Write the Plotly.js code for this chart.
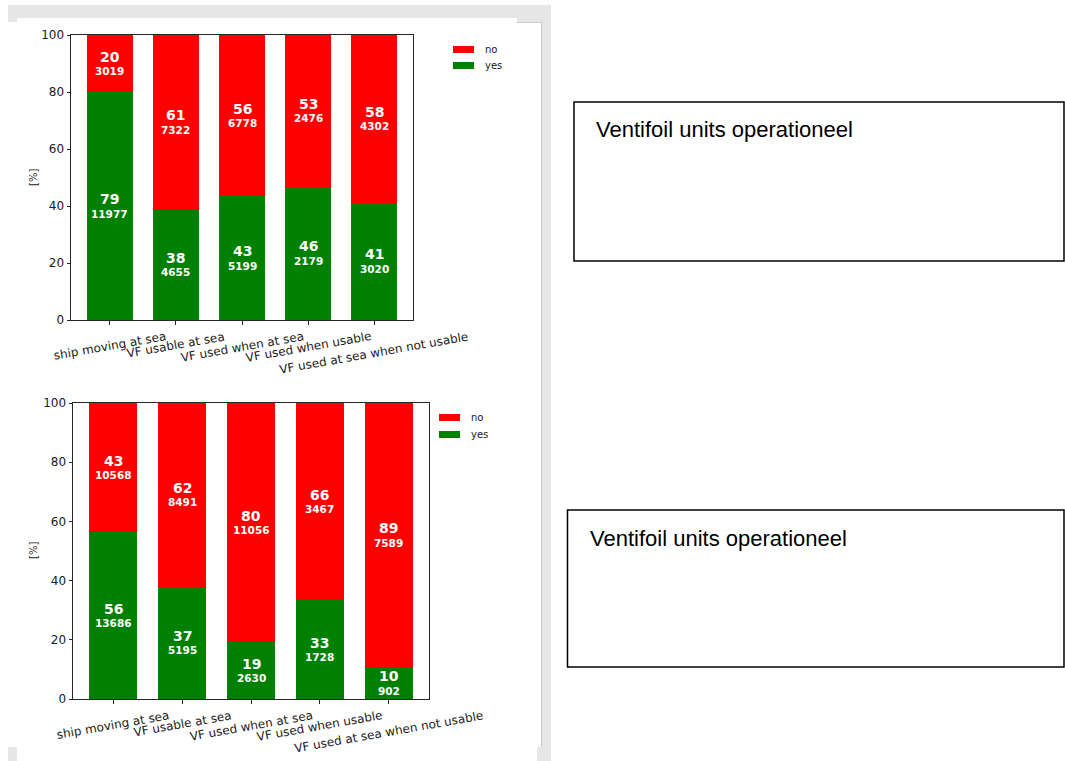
<!DOCTYPE html>
<html><head><meta charset="utf-8">
<script src="https://cdn.plot.ly/plotly-3.0.1.min.js"></script>
<style>html,body{margin:0;padding:0;background:#fff;overflow:hidden;} #chart{width:1065px;height:761px;}</style>
</head><body><div id="chart"></div>
<script>
// ---------- data ----------
const categories = ["ship moving at sea", "VF usable at sea", "VF used when at sea", "VF used when usable", "VF used at sea when not usable"];
const yTickVals = [0, 20, 40, 60, 80, 100];
const seriesNames = ["no", "yes"];

const topYesPct = [79.9, 38.9, 43.4, 46.8, 41.2];
const topNoPct = [20.1, 61.1, 56.6, 53.2, 58.8];
const topYesCount = [11977, 4655, 5199, 2179, 3020];
const topNoCount = [3019, 7322, 6778, 2476, 4302];

const bottomYesPct = [56.4, 37.96, 19.2, 33.3, 10.6];
const bottomNoPct = [43.6, 62.04, 80.8, 66.7, 89.4];
const bottomYesCount = [13686, 5195, 2630, 1728, 902];
const bottomNoCount = [10568, 8491, 11056, 3467, 7589];

const boxText = "Ventifoil units operationeel";
const yLabel = "[%]";

// ---------- helpers (page pixel -> paper) ----------
const W = 1065, H = 761;
const px = x => x / W;
const py = y => 1 - y / H;

const RED = "#ff0000", GREEN = "#008000";
const FONT = "DejaVu Sans";
const TXT = "#1a1a1a";

const traces = [];
function addBars(yes, no, xa, ya) {
  traces.push({type: "bar", name: seriesNames[1], x: categories, y: yes, marker: {color: GREEN, line: {width: 0}}, width: 0.7, xaxis: xa, yaxis: ya, showlegend: false, hoverinfo: "skip"});
  traces.push({type: "bar", name: seriesNames[0], x: categories, y: no, marker: {color: RED, line: {width: 0}}, width: 0.7, xaxis: xa, yaxis: ya, showlegend: false, hoverinfo: "skip"});
}
addBars(topYesPct, topNoPct, "x", "y");
addBars(bottomYesPct, bottomNoPct, "x2", "y2");

const annotations = [];
function barLabels(yes, no, yesC, noC, xr, yr) {
  categories.forEach((c, i) => {
    const segs = [[yes[i] / 2, yes[i], yesC[i]], [yes[i] + no[i] / 2, no[i], noC[i]]];
    segs.forEach(([mid, pct, cnt]) => {
      annotations.push({xref: xr, yref: yr, x: c, y: mid, text: "<b>" + Math.floor(pct) + "</b>", showarrow: false, yshift: 7, xanchor: "center", yanchor: "middle", font: {family: FONT, size: 14, color: "#ffffff"}});
      annotations.push({xref: xr, yref: yr, x: c, y: mid, text: "<b>" + cnt + "</b>", showarrow: false, yshift: -7.5, xanchor: "center", yanchor: "middle", font: {family: FONT, size: 10.5, color: "#ffffff"}});
    });
  });
}
barLabels(topYesPct, topNoPct, topYesCount, topNoCount, "x", "y");
barLabels(bottomYesPct, bottomNoPct, bottomYesCount, bottomNoCount, "x2", "y2");

function tickLabels(xr, axisBottomPx) {
  categories.forEach(c => {
    annotations.push({xref: xr, yref: "paper", x: c, y: py(axisBottomPx), yshift: -7, text: c, textangle: -10, showarrow: false, xanchor: "center", yanchor: "top", font: {family: FONT, size: 12, color: TXT}});
  });
}
tickLabels("x", 320);
tickLabels("x2", 699);

// y labels
annotations.push({xref: "paper", yref: "paper", x: px(33), y: py(178), text: yLabel, textangle: -90, showarrow: false, xanchor: "center", yanchor: "middle", font: {family: FONT, size: 10, color: TXT}});
annotations.push({xref: "paper", yref: "paper", x: px(33), y: py(551), text: yLabel, textangle: -90, showarrow: false, xanchor: "center", yanchor: "middle", font: {family: FONT, size: 10, color: TXT}});

// legends (manual, matplotlib style)
const shapes = [];
function legend(x0, yNo, yYes) {
  shapes.push({type: "rect", xref: "paper", yref: "paper", x0: px(x0), x1: px(x0 + 21), y0: py(yNo - 3.5), y1: py(yNo + 3.5), fillcolor: RED, line: {width: 0}});
  shapes.push({type: "rect", xref: "paper", yref: "paper", x0: px(x0), x1: px(x0 + 21), y0: py(yYes - 3.5), y1: py(yYes + 3.5), fillcolor: GREEN, line: {width: 0}});
  annotations.push({xref: "paper", yref: "paper", x: px(x0 + 30), y: py(yNo), text: seriesNames[0], showarrow: false, xanchor: "left", yanchor: "middle", font: {family: FONT, size: 10, color: TXT}});
  annotations.push({xref: "paper", yref: "paper", x: px(x0 + 30), y: py(yYes), text: seriesNames[1], showarrow: false, xanchor: "left", yanchor: "middle", font: {family: FONT, size: 10, color: TXT}});
}
legend(453, 49.5, 65.5);
legend(439, 417.5, 434.5);

// notebook frame
const FR = "#e6e6e6";
shapes.push({type: "rect", xref: "paper", yref: "paper", layer: "below", x0: px(8), x1: px(551), y0: py(5), y1: py(22), fillcolor: FR, line: {width: 0}});
shapes.push({type: "rect", xref: "paper", yref: "paper", layer: "below", x0: px(17), x1: px(517), y0: py(18), y1: py(23), fillcolor: "#ffffff", line: {width: 0}});
shapes.push({type: "rect", xref: "paper", yref: "paper", layer: "below", x0: px(541), x1: px(551), y0: py(5), y1: py(761), fillcolor: FR, line: {width: 0}});
shapes.push({type: "rect", xref: "paper", yref: "paper", layer: "below", x0: px(537), x1: px(551), y0: py(747), y1: py(761), fillcolor: FR, line: {width: 0}});
shapes.push({type: "rect", xref: "paper", yref: "paper", layer: "below", x0: px(8), x1: px(17), y0: py(747), y1: py(761), fillcolor: FR, line: {width: 0}});
shapes.push({type: "line", xref: "paper", yref: "paper", layer: "below", x0: px(541.5), x1: px(541.5), y0: py(22), y1: py(747), line: {color: "#cccccc", width: 1}});
shapes.push({type: "line", xref: "paper", yref: "paper", layer: "below", x0: px(517), x1: px(541.5), y0: py(22.5), y1: py(22.5), line: {color: "#cccccc", width: 1}});

// text boxes
function textBox(x0, y0, y1) {
  shapes.push({type: "rect", xref: "paper", yref: "paper", x0: px(x0), x1: px(1064), y0: py(y0), y1: py(y1), fillcolor: "rgba(0,0,0,0)", line: {color: "#000000", width: 1.5}});
  annotations.push({xref: "paper", yref: "paper", x: px(x0 + 20), y: py(y0 + 28), text: boxText, showarrow: false, xanchor: "left", yanchor: "middle", font: {family: "Liberation Sans", size: 22, color: "#000000"}});
}
textBox(574, 102, 261);
textBox(567.5, 510, 667);

const axisCommon = {showline: true, mirror: true, linecolor: "#262626", linewidth: 1, ticks: "outside", ticklen: 3.5, tickcolor: "#262626", showgrid: false, zeroline: false, fixedrange: true};
const xCommon = Object.assign({}, axisCommon, {type: "category", range: [-0.585, 4.585], showticklabels: false, categoryorder: "array", categoryarray: categories});
const yCommon = Object.assign({}, axisCommon, {range: [0, 100], tickvals: yTickVals, ticktext: yTickVals.map(String), tickfont: {family: FONT, size: 12, color: TXT}});

const layout = {
  width: W, height: H,
  margin: {l: 0, r: 0, t: 0, b: 0},
  paper_bgcolor: "#ffffff", plot_bgcolor: "#ffffff",
  barmode: "stack", showlegend: false,
  xaxis: Object.assign({}, xCommon, {domain: [px(71), px(413)], anchor: "y"}),
  yaxis: Object.assign({}, yCommon, {domain: [py(320), py(35)], anchor: "x"}),
  xaxis2: Object.assign({}, xCommon, {domain: [px(73), px(429)], anchor: "y2"}),
  yaxis2: Object.assign({}, yCommon, {domain: [py(699), py(403)], anchor: "x2"}),
  shapes: shapes,
  annotations: annotations
};
Plotly.newPlot("chart", traces, layout, {staticPlot: true, displayModeBar: false});
</script></body></html>
